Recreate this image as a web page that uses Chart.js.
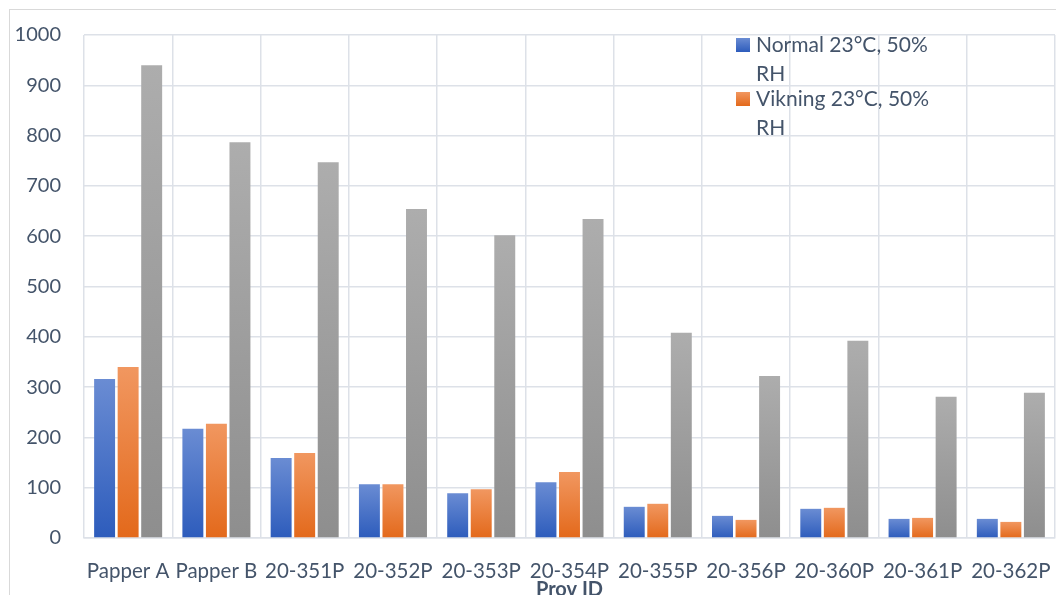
<!DOCTYPE html>
<html>
<head>
<meta charset="utf-8">
<script src="https://cdn.jsdelivr.net/npm/chart.js@4/dist/chart.umd.min.js"></script>
<style>
  html, body { margin: 0; padding: 0; background: #fff; overflow: hidden; }
  #frame {
    position: absolute; left: 9px; top: 9px; width: 1200px; height: 700px;
    border-top: 1px solid #d9d9d9; border-left: 1px solid #d9d9d9;
  }
  #prov-chart { position: absolute; left: 0; top: 0; }
</style>
</head>
<body>
<div id="frame"></div>
<canvas id="prov-chart" width="1072" height="610"></canvas>
<script>
// Prov ID categories and measured values
const provIds = [
  'Papper A', 'Papper B', '20-351P', '20-352P', '20-353P', '20-354P',
  '20-355P', '20-356P', '20-360P', '20-361P', '20-362P',
];
const normalValues = [316, 217, 159, 107, 89, 111, 62, 44, 58, 38, 38];
const vikningValues = [340, 227, 169, 107, 97, 131, 68, 36, 60, 40, 32];
const serie3Values = [940, 787, 747, 654, 602, 634, 408, 322, 392, 281, 289];
const yTicks = [0, 100, 200, 300, 400, 500, 600, 700, 800, 900, 1000];

const textColor = '#44546a';
const gridColor = '#dde1e8';
const fontFamily = 'Lato, "Open Sans", sans-serif';

// Vertical gradient per bar, lighter at the top
const barFill = (top, bottom) => (ctx) => {
  const { chart, parsed } = ctx;
  const y = chart.scales && chart.scales.y;
  if (!y || !parsed || !chart.chartArea) return bottom;
  const y0 = y.getPixelForValue(parsed.y);
  const y1 = y.getPixelForValue(0);
  if (!isFinite(y0) || !isFinite(y1) || y0 === y1) return bottom;
  const g = chart.ctx.createLinearGradient(0, y0, 0, y1);
  g.addColorStop(0, top);
  g.addColorStop(1, bottom);
  return g;
};

// Legend drawn inside the plot, with wrapped labels
const wrappedLegend = {
  id: 'wrappedLegend',
  afterDraw(chart, args, opts) {
    const { ctx } = chart;
    ctx.save();
    ctx.font = `${opts.fontSize}px ${fontFamily}`;
    ctx.textBaseline = 'middle';
    let y = opts.y;
    chart.data.datasets.forEach((ds) => {
      if (ds.hideInLegend) return;
      // word wrap
      const words = ds.label.split(' ');
      const lines = [];
      let line = '';
      words.forEach((w) => {
        const test = line ? `${line} ${w}` : w;
        if (ctx.measureText(test).width > opts.maxWidth && line) {
          lines.push(line);
          line = w;
        } else {
          line = test;
        }
      });
      lines.push(line);
      const g = ctx.createLinearGradient(0, y - 7, 0, y + 7);
      g.addColorStop(0, ds.legendTop);
      g.addColorStop(1, ds.legendBottom);
      ctx.fillStyle = g;
      ctx.fillRect(opts.x, y - 7, 14, 14);
      ctx.fillStyle = textColor;
      lines.forEach((l, i) => ctx.fillText(l, opts.x + 20, y + i * opts.lineHeight));
      y += (lines.length - 1) * opts.lineHeight + opts.entryGap;
    });
    ctx.restore();
  },
};

const chart = new Chart(document.getElementById('prov-chart'), {
  type: 'bar',
  data: {
    labels: provIds,
    datasets: [
      {
        label: 'Normal 23°C, 50% RH',
        data: normalValues,
        backgroundColor: barFill('#6a8cd3', '#2d5cbc'),
        legendTop: '#6a8cd3',
        legendBottom: '#2d5cbc',
      },
      {
        label: 'Vikning 23°C, 50% RH',
        data: vikningValues,
        backgroundColor: barFill('#f19760', '#e3691b'),
        legendTop: '#f19760',
        legendBottom: '#e3691b',
      },
      {
        label: 'Serie3',
        data: serie3Values,
        backgroundColor: barFill('#adadad', '#8e8e8e'),
        hideInLegend: true,
      },
    ],
  },
  options: {
    animation: false,
    responsive: false,
    datasets: {
      bar: { categoryPercentage: 0.8, barPercentage: 0.89 },
    },
    layout: { padding: { top: 35, left: 0, right: 10, bottom: 0 } },
    scales: {
      y: {
        min: 0,
        max: 1000,
        afterBuildTicks: (s) => { s.ticks = yTicks.map((v) => ({ value: v })); },
        afterFit: (s) => { s.width = 84; },
        border: { display: false },
        grid: { color: gridColor, lineWidth: 1.5, drawTicks: false },
        ticks: {
          color: textColor,
          padding: 23,
          callback: (v) => String(v),
          font: { family: fontFamily, size: 20 },
        },
      },
      x: {
        afterFit: (s) => { s.height = 72; },
        border: { color: gridColor, width: 1.5 },
        grid: { color: gridColor, lineWidth: 1.5, drawTicks: false, offset: true },
        ticks: {
          color: textColor,
          padding: 21,
          autoSkip: false,
          maxRotation: 0,
          font: { family: fontFamily, size: 20.5 },
        },
        title: {
          display: true,
          text: 'Prov ID',
          color: textColor,
          padding: { top: 0, bottom: 8 },
          font: { family: fontFamily, size: 20, weight: 'bold' },
        },
      },
    },
    plugins: {
      legend: { display: false },
      tooltip: { enabled: false },
      wrappedLegend: {
        x: 736, y: 45, maxWidth: 185, fontSize: 21, lineHeight: 29, entryGap: 25,
      },
    },
  },
  plugins: [wrappedLegend],
});
</script>
</body>
</html>
